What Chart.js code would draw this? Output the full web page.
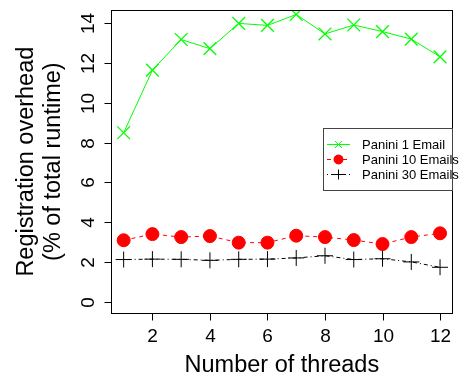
<!DOCTYPE html>
<html>
<head>
<meta charset="utf-8">
<script src="https://cdn.jsdelivr.net/npm/chart.js@4.4.1/dist/chart.umd.min.js"></script>
<style>
html,body{margin:0;padding:0;background:#fff;}
#wrap{position:relative;width:463px;height:379px;}
</style>
</head>
<body>
<div id="wrap"><canvas id="c" width="463" height="379"></canvas></div>
<script>
const threads = [1,2,3,4,5,6,7,8,9,10,11,12];
const panini1 = [8.5,11.65,13.19,12.73,14.0,13.9,14.45,13.47,13.92,13.59,13.21,12.32];
const panini10 = [3.09,3.40,3.25,3.30,2.97,2.97,3.32,3.25,3.10,2.90,3.25,3.44];
const panini30 = [2.12,2.14,2.13,2.08,2.13,2.14,2.20,2.31,2.12,2.16,2.00,1.73];
const seriesNames = ['Panini 1 Email','Panini 10 Emails','Panini 30 Emails'];
const xTicks = [2,4,6,8,10,12];
const yTicks = [0,2,4,6,8,10,12,14];
const xTitle = 'Number of threads';
const yTitle = ['Registration overhead','(% of total runtime)'];

const FONT = '"Liberation Sans", Arial, sans-serif';

function pts(ys){ return threads.map((x,i)=>({x:x,y:ys[i]})); }

const styles = [
  {color:'#00ff00', pointStyle:'crossRot', r:9, dash:[], lw:1.3, legR:5},
  {color:'#ff0000', pointStyle:'circle', r:6.5, dash:[4,4], lw:1, legR:4.5},
  {color:'#000000', pointStyle:'cross', r:8, dash:[1,3,4,3], lw:1, legR:5}
];

const axesPlugin = {
  id:'rAxes',
  afterDraw(chart){
    const ctx = chart.ctx, a = chart.chartArea;
    const xs = chart.scales.x, ys = chart.scales.y;
    ctx.save();
    ctx.strokeStyle = '#000'; ctx.lineWidth = 1; ctx.setLineDash([]);
    const L = Math.round(a.left)+0.5, R = Math.round(a.right)-0.5, T = Math.round(a.top)+0.5, B = Math.round(a.bottom)+0.5;
    ctx.strokeRect(L, T, R-L, B-T);
    ctx.fillStyle = '#000';
    // x ticks
    ctx.font = '19px ' + FONT;
    ctx.textAlign = 'center'; ctx.textBaseline = 'alphabetic';
    xTicks.forEach(v=>{
      const px = Math.round(xs.getPixelForValue(v))+0.5;
      ctx.beginPath(); ctx.moveTo(px,B); ctx.lineTo(px,B+7); ctx.stroke();
      ctx.fillText(String(v), px, 341.5);
    });
    // y ticks
    yTicks.forEach(v=>{
      const py = Math.round(ys.getPixelForValue(v))+0.5;
      ctx.beginPath(); ctx.moveTo(L-7,py); ctx.lineTo(L,py); ctx.stroke();
      ctx.save(); ctx.translate(94, py); ctx.rotate(-Math.PI/2);
      ctx.fillText(String(v), 0, 0); ctx.restore();
    });
    // titles
    ctx.font = '23.5px ' + FONT;
    ctx.fillText(xTitle, (a.left+a.right)/2, 371.5);
    const cy = (a.top+a.bottom)/2;
    [33, 60].forEach((bx,i)=>{
      ctx.save(); ctx.translate(bx, cy); ctx.rotate(-Math.PI/2);
      ctx.fillText(yTitle[i], 0, 0); ctx.restore();
    });
    // legend
    const lx = 323.5, ly = 128.5, lw = R - lx, lh = 62;
    ctx.fillStyle = '#fff'; ctx.fillRect(lx, ly, lw, lh);
    ctx.strokeStyle = '#444'; ctx.strokeRect(lx, ly, lw, lh);
    ctx.font = '13px ' + FONT; ctx.textAlign = 'left'; ctx.textBaseline = 'middle';
    seriesNames.forEach((name,i)=>{
      const s = styles[i], y = 144.5 + i*15;
      ctx.strokeStyle = s.color; ctx.lineWidth = 1; ctx.setLineDash(s.dash);
      ctx.beginPath(); ctx.moveTo(327, y); ctx.lineTo(350, y); ctx.stroke();
      ctx.setLineDash([]);
      ctx.fillStyle = s.color;
      Chart.helpers.drawPoint(ctx, {pointStyle:s.pointStyle, radius:s.legR, rotation:0, borderWidth:1}, 338.5, y);
      if (s.pointStyle==='circle') ctx.fill();
      ctx.fillStyle = '#000';
      ctx.fillText(name, 362, y+0.5);
    });
    ctx.restore();
  }
};

new Chart(document.getElementById('c'), {
  type:'line',
  data:{
    datasets:[panini1,panini10,panini30].map((d,i)=>({
      label:seriesNames[i],
      data:pts(d),
      borderColor:styles[i].color,
      backgroundColor:styles[i].color,
      pointBackgroundColor:styles[i].color,
      pointBorderColor:styles[i].color,
      pointStyle:styles[i].pointStyle,
      pointRadius:styles[i].r,
      pointHoverRadius:styles[i].r,
      pointBorderWidth:styles[i].lw,
      borderWidth:1,
      borderDash:styles[i].dash,
      fill:false,
      tension:0,
      order:2-i
    }))
  },
  options:{
    responsive:false,
    animation:false,
    devicePixelRatio:1,
    events:[],
    layout:{padding:{left:111,top:5,right:1,bottom:66}},
    plugins:{legend:{display:false},tooltip:{enabled:false}},
    scales:{
      x:{type:'linear',display:false,min:0.56,max:12.44},
      y:{type:'linear',display:false,min:-0.57,max:14.66}
    }
  },
  plugins:[axesPlugin]
});
</script>
</body>
</html>
